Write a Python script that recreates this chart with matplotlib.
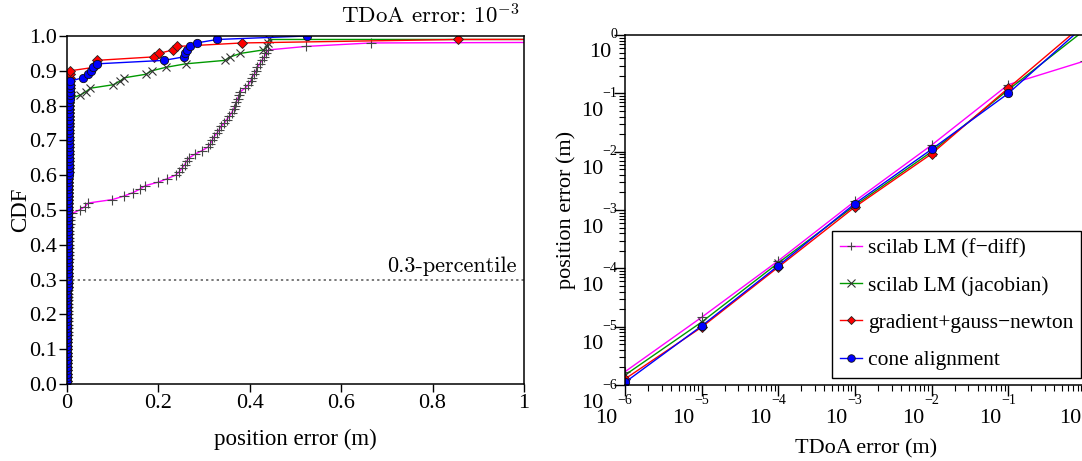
import numpy as np
import matplotlib
matplotlib.use("Agg")
import matplotlib.pyplot as plt

plt.rcParams['font.family'] = ['Liberation Serif', 'DejaVu Serif']
plt.rcParams['mathtext.fontset'] = 'cm'
plt.rcParams['axes.unicode_minus'] = True

# ---------------- data: left panel (position errors, TDoA error 1e-3) ----------------
fdiff_err = [0.0005, 0.0007, 0.0008, 0.0010, 0.0011, 0.0012, 0.0012, 0.0013, 0.0014, 0.0015,
             0.0016, 0.0016, 0.0017, 0.0018, 0.0019, 0.0020, 0.0020, 0.0021, 0.0022, 0.0023,
             0.0024, 0.0025, 0.0026, 0.0026, 0.0027, 0.0028, 0.0029, 0.0030, 0.0031, 0.0032,
             0.0034, 0.0035, 0.0036, 0.0037, 0.0039, 0.0040, 0.0042, 0.0043, 0.0045, 0.0047,
             0.0049, 0.0051, 0.0053, 0.0056, 0.0059, 0.0062, 0.0066, 0.0071,
             0.012, 0.028, 0.040, 0.047, 0.100, 0.125, 0.145, 0.160, 0.172, 0.200,
             0.220, 0.238, 0.246, 0.252, 0.258, 0.262, 0.268, 0.280, 0.295, 0.308,
             0.314, 0.318, 0.322, 0.328, 0.333, 0.337, 0.345, 0.350, 0.356, 0.361,
             0.365, 0.368, 0.371, 0.374, 0.377, 0.380, 0.390, 0.397, 0.402, 0.405,
             0.410, 0.414, 0.417, 0.422, 0.427, 0.432, 0.436, 0.441, 0.523, 0.665,
             3.1, 9.0]

jacob_err = [0.0004, 0.0005, 0.0006, 0.0007, 0.0008, 0.0008, 0.0009, 0.0010, 0.0010, 0.0011,
             0.0011, 0.0012, 0.0012, 0.0013, 0.0013, 0.0014, 0.0015, 0.0015, 0.0016, 0.0016,
             0.0017, 0.0017, 0.0018, 0.0019, 0.0019, 0.0020, 0.0020, 0.0021, 0.0022, 0.0022,
             0.0023, 0.0024, 0.0024, 0.0025, 0.0026, 0.0026, 0.0027, 0.0028, 0.0028, 0.0029,
             0.0030, 0.0031, 0.0031, 0.0032, 0.0033, 0.0034, 0.0035, 0.0035, 0.0036, 0.0037,
             0.0038, 0.0039, 0.0040, 0.0041, 0.0042, 0.0043, 0.0044, 0.0045, 0.0046, 0.0047,
             0.0048, 0.0049, 0.0050, 0.0051, 0.0052, 0.0053, 0.0054, 0.0055, 0.0056, 0.0057,
             0.0058, 0.0059, 0.0060, 0.0061, 0.0062, 0.0063, 0.0064, 0.0065, 0.0066, 0.0068,
             0.0070, 0.0072,
             0.029, 0.042, 0.052, 0.102, 0.116, 0.126, 0.173, 0.186, 0.217, 0.260,
             0.346, 0.358, 0.380, 0.430, 0.438, 0.441, 0.443, 40.0]

ggn_err = [0.0003, 0.0004, 0.0005, 0.0006, 0.0006, 0.0007, 0.0007, 0.0008, 0.0008, 0.0009,
           0.0009, 0.0010, 0.0010, 0.0011, 0.0011, 0.0012, 0.0012, 0.0013, 0.0013, 0.0014,
           0.0014, 0.0015, 0.0015, 0.0016, 0.0016, 0.0017, 0.0017, 0.0018, 0.0018, 0.0019,
           0.0019, 0.0020, 0.0020, 0.0021, 0.0021, 0.0022, 0.0022, 0.0023, 0.0024, 0.0024,
           0.0025, 0.0025, 0.0026, 0.0027, 0.0027, 0.0028, 0.0029, 0.0029, 0.0030, 0.0031,
           0.0031, 0.0032, 0.0033, 0.0034, 0.0034, 0.0035, 0.0036, 0.0037, 0.0038, 0.0039,
           0.0040, 0.0041, 0.0042, 0.0043, 0.0044, 0.0045, 0.0046, 0.0047, 0.0048, 0.0049,
           0.0050, 0.0051, 0.0052, 0.0053, 0.0054, 0.0055, 0.0056, 0.0057, 0.0058, 0.0059,
           0.0060, 0.0061, 0.0062, 0.0063, 0.0064, 0.0065, 0.0066, 0.0067, 0.0069, 0.0072,
           0.060, 0.063, 0.066, 0.190, 0.202, 0.232, 0.242, 0.383, 0.855, 25.0]

cone_err = [0.0003, 0.0004, 0.0005, 0.0005, 0.0006, 0.0007, 0.0007, 0.0008, 0.0008, 0.0009,
            0.0009, 0.0010, 0.0010, 0.0011, 0.0011, 0.0012, 0.0012, 0.0013, 0.0013, 0.0014,
            0.0014, 0.0015, 0.0015, 0.0016, 0.0016, 0.0017, 0.0017, 0.0018, 0.0018, 0.0019,
            0.0019, 0.0020, 0.0020, 0.0021, 0.0021, 0.0022, 0.0023, 0.0023, 0.0024, 0.0024,
            0.0025, 0.0026, 0.0026, 0.0027, 0.0027, 0.0028, 0.0029, 0.0029, 0.0030, 0.0031,
            0.0032, 0.0032, 0.0033, 0.0034, 0.0035, 0.0036, 0.0037, 0.0038, 0.0039, 0.0040,
            0.0041, 0.0042, 0.0043, 0.0044, 0.0045, 0.0046, 0.0047, 0.0048, 0.0049, 0.0050,
            0.0051, 0.0052, 0.0053, 0.0054, 0.0055, 0.0056, 0.0057, 0.0058, 0.0059, 0.0060,
            0.0061, 0.0062, 0.0063, 0.0064, 0.0065, 0.0066, 0.0068,
            0.035, 0.046, 0.053, 0.058, 0.066, 0.213, 0.256, 0.259, 0.264, 0.270,
            0.284, 0.329, 0.525]

# ---------------- data: right panel (mean position error vs TDoA error) ----------------
tdoa_err = [1e-6, 1e-5, 1e-4, 1e-3, 1e-2, 1e-1, 1e0]
fdiff_pos = [1.69e-6, 1.45e-5, 1.35e-4, 1.42e-3, 1.30e-2, 0.141, 0.36]
jacob_pos = [1.48e-6, 1.20e-5, 1.24e-4, 1.20e-3, 1.00e-2, 0.115, 1.23]
ggn_pos = [1.27e-6, 0.98e-5, 1.05e-4, 1.13e-3, 0.92e-2, 0.123, 1.60]
cone_pos = [1.11e-6, 1.03e-5, 1.11e-4, 1.29e-3, 1.10e-2, 0.100, 1.47]

labels = ["scilab LM (f\u2212diff)", "scilab LM (jacobian)",
          "gradient+gauss\u2212newton", "cone alignment"]
left_xticks = [0, 0.2, 0.4, 0.6, 0.8, 1]
left_xticklabels = ["0", "0.2", "0.4", "0.6", "0.8", "1"]
left_yticks = [0.0, 0.1, 0.2, 0.3, 0.4, 0.5, 0.6, 0.7, 0.8, 0.9, 1.0]
decades = [-6, -5, -4, -3, -2, -1, 0]

# ---------------- styles ----------------
styles = [
    dict(color='#ff00ff', marker='+', mfc='#444444', mec='#444444', ms=7, mew=0.8),
    dict(color='#009900', marker='x', mfc='#333333', mec='#333333', ms=6, mew=0.8),
    dict(color='#ff0000', marker='D', mfc='#ff0000', mec='#222222', ms=5, mew=0.6),
    dict(color='#0000ff', marker='o', mfc='#0000ff', mec='#111111', ms=6, mew=0.6),
]

W, H = 1082, 461
fig = plt.figure(figsize=(W / 100, H / 100), dpi=100)

# ---------------- left panel ----------------
axL = fig.add_axes([66.7 / W, (H - 384) / H, 457.3 / W, 348 / H])
for err, st in zip([fdiff_err, jacob_err, ggn_err, cone_err], styles):
    e = np.sort(np.asarray(err))
    cdf = np.arange(1, len(e) + 1) / len(e)
    axL.plot(e, cdf, lw=1.0, **st)
axL.plot([0, 1], [0.3, 0.3], ls=(0, (1.5, 2.0)), color='#555555', lw=1.1)
axL.text(0.983, 0.31, "0.3-percentile", family='cmr10', fontsize=16,
         ha='right', va='bottom')
axL.set_xlim(0, 1)
axL.set_ylim(0, 1)
axL.set_xticks(left_xticks)
axL.set_xticklabels(left_xticklabels)
axL.set_yticks(left_yticks)
axL.set_yticklabels([f"{v:.1f}" for v in left_yticks])
axL.tick_params(direction='out', length=6, width=1, labelsize=16, pad=1)
for s in axL.spines.values():
    s.set_linewidth(1.1)
axL.set_xlabel("position error (m)", fontsize=16.5)
axL.set_ylabel("CDF", fontsize=16.5)
axL.xaxis.set_label_coords(0.5, -0.128)
axL.yaxis.set_label_coords(-0.077, 0.5)
fig.text(519 / W, (H - 23) / H, r"TDoA error: $10^{-3}$", family='cmr10',
         fontsize=16.5, ha='right', va='baseline')

# ---------------- right panel ----------------
axR = fig.add_axes([625 / W, (H - 385) / H, 460 / W, 350 / H])
handles = []
for pos, st, lab in zip([fdiff_pos, jacob_pos, ggn_pos, cone_pos], styles, labels):
    ln, = axR.plot(tdoa_err, pos, lw=1.0, label=lab, **st)
    handles.append(ln)
axR.set_xscale('log')
axR.set_yscale('log')
axR.set_xlim(1e-6, 1e0)
axR.set_ylim(1e-6, 1e0)
axR.set_xticks([10.0 ** d for d in decades])
axR.set_yticks([10.0 ** d for d in decades])
axR.tick_params(which='major', direction='out', length=8, width=1)
axR.tick_params(which='minor', direction='out', length=4, width=0.8)
axR.tick_params(which='both', labelbottom=False, labelleft=False)
for s in axR.spines.values():
    s.set_linewidth(1.1)

axR.set_xlabel("TDoA error (m)", fontsize=16)
axR.set_ylabel("position error (m)", fontsize=16)
axR.xaxis.set_label_coords(0.525, -0.155)
axR.yaxis.set_label_coords(-0.107, 0.5)

leg = axR.legend(handles=handles, loc='lower right', bbox_to_anchor=(0.991, 0.02),
                 borderaxespad=0, fontsize=15.5, frameon=True, fancybox=False,
                 framealpha=1, edgecolor='black', handlelength=1.05,
                 handletextpad=0.25, labelspacing=0.8, borderpad=0.36,
                 markerscale=0.9)
leg.get_frame().set_linewidth(1.0)

# old-style log tick labels: small exponent at the tick, "10" below-left of it
fig.canvas.draw()
renderer = fig.canvas.get_renderer()
exp_size, base_size, drop = 10, 16, 18
for d in decades:
    es = "\u2212%d" % -d if d < 0 else "%d" % d
    # x axis
    px, py = axR.transData.transform((10.0 ** d, 1e-6))
    tx = fig.text(px / W, (py - 15) / H, es, fontsize=exp_size, ha='center', va='center')
    bb = tx.get_window_extent(renderer)
    fig.text(bb.x0 / W, (py - 15 - drop) / H, "10", fontsize=base_size,
             ha='right', va='center')
    # y axis
    qx, qy = axR.transData.transform((1e-6, 10.0 ** d))
    ty = fig.text((qx - 8) / W, qy / H, es, fontsize=exp_size, ha='right', va='center')
    bb = ty.get_window_extent(renderer)
    fig.text((bb.x0 + 1) / W, (qy - drop) / H, "10", fontsize=base_size,
             ha='right', va='center')

fig.savefig("out.png", dpi=100)
